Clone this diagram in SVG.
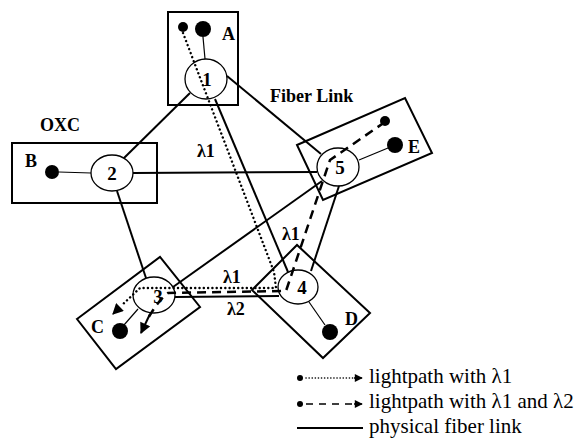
<svg xmlns="http://www.w3.org/2000/svg" width="580" height="445" viewBox="0 0 580 445">
<style>
.box{fill:none;stroke:#000;stroke-width:2}
.nd{fill:none;stroke:#000;stroke-width:1.3}
.fib{fill:none;stroke:#000;stroke-width:2}
.thin{fill:none;stroke:#000;stroke-width:1.2}
.dot{fill:none;stroke:#000;stroke-width:2.4;stroke-dasharray:0.1 4.2;stroke-linecap:round}
.dash{fill:none;stroke:#000;stroke-width:2.5;stroke-dasharray:9 6}
.lbl{font-family:"Liberation Serif",serif;font-weight:bold;font-size:18px;fill:#000}
.num{font-family:"Liberation Serif",serif;font-weight:bold;font-size:19px;fill:#000;text-anchor:middle}
.leg{font-family:"Liberation Serif",serif;font-size:21px;fill:#000}
</style>
<defs>
<marker id="ah" viewBox="0 0 10 10" refX="9" refY="5" markerWidth="12" markerHeight="11" markerUnits="userSpaceOnUse" orient="auto"><path d="M0,0 L10,5 L0,10 z" fill="#000"/></marker>
<marker id="ahs" viewBox="0 0 10 10" refX="9" refY="5" markerWidth="10" markerHeight="8" markerUnits="userSpaceOnUse" orient="auto"><path d="M0,0 L10,5 L0,10 z" fill="#000"/></marker>
</defs>

<g id="oxcA">
<rect class="box" x="168" y="12" width="70" height="93"/>
<circle cx="183" cy="27" r="5"/>
<circle cx="203" cy="29" r="8"/>
<line class="thin" x1="203" y1="37" x2="205" y2="59"/>
<ellipse class="nd" cx="206" cy="79" rx="21" ry="20"/>
<text class="num" x="207" y="86">1</text>
<text class="lbl" x="222" y="40">A</text>
</g>

<g id="oxcB">
<rect class="box" x="12" y="143" width="145" height="60"/>
<circle cx="52" cy="172" r="7"/>
<line class="thin" x1="59" y1="172" x2="91" y2="173"/>
<ellipse class="nd" cx="112" cy="173" rx="21" ry="18"/>
<text class="num" x="112" y="180">2</text>
<text class="lbl" x="25" y="167">B</text>
</g>

<g id="oxcC">
<polygon class="box" points="77,319 160,257 200,307 116,369"/>
<circle cx="120" cy="331" r="8"/>
<line class="thin" x1="138" y1="309" x2="124" y2="325"/>
<ellipse class="nd" cx="154" cy="295" rx="21" ry="18"/>
<text class="num" x="158" y="303">3</text>
<text class="lbl" x="91" y="333">C</text>
</g>

<g id="oxcD">
<polygon class="box" points="252,290 297,245 370,313 323,358"/>
<circle cx="330" cy="332" r="8"/>
<line class="thin" x1="309" y1="302" x2="325" y2="325"/>
<ellipse class="nd" cx="298" cy="287" rx="20" ry="17"/>
<text class="num" x="302" y="294">4</text>
<text class="lbl" x="345" y="325">D</text>
</g>

<g id="oxcE">
<polygon class="box" points="297,145 405,98 432,153 323,200"/>
<circle cx="385" cy="121" r="5"/>
<circle cx="395" cy="145" r="8"/>
<line class="thin" x1="388" y1="148" x2="359" y2="160"/>
<ellipse class="nd" cx="338" cy="167" rx="21" ry="19"/>
<text class="num" x="340" y="174">5</text>
<text class="lbl" x="408" y="153">E</text>
</g>

<g id="connectors">
<line class="fib" x1="190" y1="93" x2="124" y2="158"/>
<line class="fib" x1="227" y1="76" x2="321" y2="154"/>
<line class="fib" x1="215" y1="99" x2="288" y2="272"/>
<line class="fib" x1="133" y1="173" x2="317" y2="172"/>
<line class="fib" x1="117" y1="191" x2="146" y2="278"/>
<line class="fib" x1="173" y1="287" x2="322" y2="181"/>
<line class="fib" x1="311" y1="271" x2="339" y2="186"/>
<line class="fib" x1="175" y1="297" x2="279" y2="296"/>
<path class="dot" d="M183,33 L274,272 L276,288 L140,288 L122,305"/>
<path d="M119,308 L113,314" stroke="#000" stroke-width="1.5" marker-end="url(#ah)"/>
<path class="dash" d="M385,122 L330,160 L286,291 L168,293 Q158,300 146,322"/>
<path d="M150,314 L141,333" stroke="#000" stroke-width="2" marker-end="url(#ah)"/>
</g>

<g id="labels">
<text class="lbl" x="40" y="131">OXC</text>
<text class="lbl" x="270" y="102">Fiber Link</text>
<text class="lbl" x="197" y="157">λ1</text>
<text class="lbl" x="282" y="240">λ1</text>
<text class="lbl" x="223" y="283">λ1</text>
<text class="lbl" x="227" y="315">λ2</text>
</g>

<g id="legend">
<circle cx="300" cy="378" r="3"/>
<line x1="306" y1="378" x2="354" y2="378" stroke="#000" stroke-width="1.6" stroke-dasharray="0.1 3" stroke-linecap="round"/>
<line x1="354" y1="378" x2="362" y2="378" stroke="#000" stroke-width="1.5" marker-end="url(#ahs)"/>
<circle cx="300" cy="404" r="3"/>
<line x1="306" y1="404" x2="354" y2="404" stroke="#000" stroke-width="1.6" stroke-dasharray="7 6"/>
<line x1="354" y1="404" x2="362" y2="404" stroke="#000" stroke-width="1.5" marker-end="url(#ahs)"/>
<line x1="297" y1="428" x2="363" y2="428" stroke="#000" stroke-width="2"/>
<text class="leg" x="369" y="383">lightpath with λ1</text>
<text class="leg" x="369" y="408">lightpath with λ1 and λ2</text>
<text class="leg" x="369" y="433">physical fiber link</text>
</g>
</svg>
